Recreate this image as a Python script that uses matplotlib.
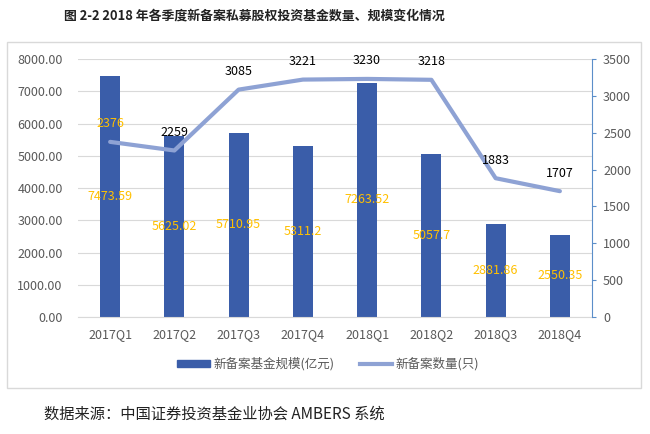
import numpy as np
import matplotlib
matplotlib.use('Agg')
import matplotlib.pyplot as plt
from matplotlib.patches import Rectangle

plt.rcParams['font.family'] = ['Noto Sans CJK SC', 'DejaVu Sans']

#%% data

quarters = ['2017Q1', '2017Q2', '2017Q3', '2017Q4', '2018Q1', '2018Q2', '2018Q3', '2018Q4']
scale = [7473.59, 5625.02, 5710.95, 5311.2, 7263.52, 5057.7, 2881.86, 2550.35]
count = [2376, 2259, 3085, 3221, 3230, 3218, 1883, 1707]
scale_labels = ['7473.59', '5625.02', '5710.95', '5311.2', '7263.52', '5057.7', '2881.86', '2550.35']

#%% styles

bar_c = '#3A5DA9'
line_c = '#8EA2D4'
lab_c = '#FFC000'
grid_c = '#D9D9D9'
txt_c = '#595959'
axis_c = '#5B8EC9'

fig = plt.figure(figsize=(6.5, 4.34), dpi=100)
ax = fig.add_axes([0.12, 0.2696, 0.7908, 0.5944])
ax2 = ax.twinx()

x = np.arange(len(quarters))
bars = ax.bar(x, scale, width=0.31, color=bar_c, zorder=2)
ax.bar_label(bars, labels=scale_labels, label_type='center', color=lab_c, fontsize=9)

ax.set_xlim(-0.5, 7.5)
ax.set_ylim(0, 8000)
ax.set_yticks(np.arange(0, 8001, 1000))
ax.set_yticklabels(['%.2f' % v for v in np.arange(0, 8001, 1000)])
ax.set_xticks(x)
ax.set_xticklabels(quarters)
ax.grid(axis='y', color=grid_c, linewidth=0.8, zorder=0)
ax.set_axisbelow(True)
ax.tick_params(axis='y', length=0, labelsize=9, labelcolor=txt_c, pad=11)
ax.tick_params(axis='x', length=0, labelsize=9, labelcolor=txt_c, pad=8)
for s in ['top', 'left', 'right']:
    ax.spines[s].set_visible(False)
ax.spines['bottom'].set_color(grid_c)

ax2.plot(x, count, color=line_c, linewidth=3, solid_capstyle='round', zorder=3)
for i, (xi, yi) in enumerate(zip(x, count)):
    ax2.annotate(str(yi), (xi, yi), xytext=(0, 13), textcoords='offset points',
                 ha='center', va='center', fontsize=9,
                 color=lab_c if i == 0 else 'black')
ax2.set_ylim(0, 3500)
ax2.set_yticks(np.arange(0, 3501, 500))
ax2.tick_params(axis='y', length=3, color=axis_c, labelsize=9, labelcolor=txt_c, pad=5)
for s in ['top', 'left', 'bottom']:
    ax2.spines[s].set_visible(False)
ax2.spines['right'].set_color(axis_c)

# legend
h1 = plt.Rectangle((0, 0), 1, 1, color=bar_c)
h2 = plt.Line2D([0], [0], color=line_c, linewidth=3)
fig.legend([h1, h2], ['新备案基金规模(亿元)', '新备案数量(只)'], loc='center',
           bbox_to_anchor=(0.505, 1 - 364 / 434), ncol=2, frameon=False,
           fontsize=9, labelcolor=txt_c, handlelength=2.6, handleheight=0.5,
           handletextpad=0.3, columnspacing=2.0)

# chart border
fig.patches.append(Rectangle((7 / 650, 1 - 388 / 434), 634 / 650, 346 / 434,
                             transform=fig.transFigure, fill=False,
                             edgecolor=grid_c, linewidth=1))

fig.text(64 / 650, 1 - 16 / 434, '图 2-2 2018 年各季度新备案私募股权投资基金数量、规模变化情况',
         ha='left', va='center', fontsize=9.3, fontweight='bold', color='#222222')
fig.text(44 / 650, 1 - 414 / 434, '数据来源：中国证券投资基金业协会 AMBERS 系统',
         ha='left', va='center', fontsize=11, color='#222222')

fig.savefig('out.png', dpi=100)
